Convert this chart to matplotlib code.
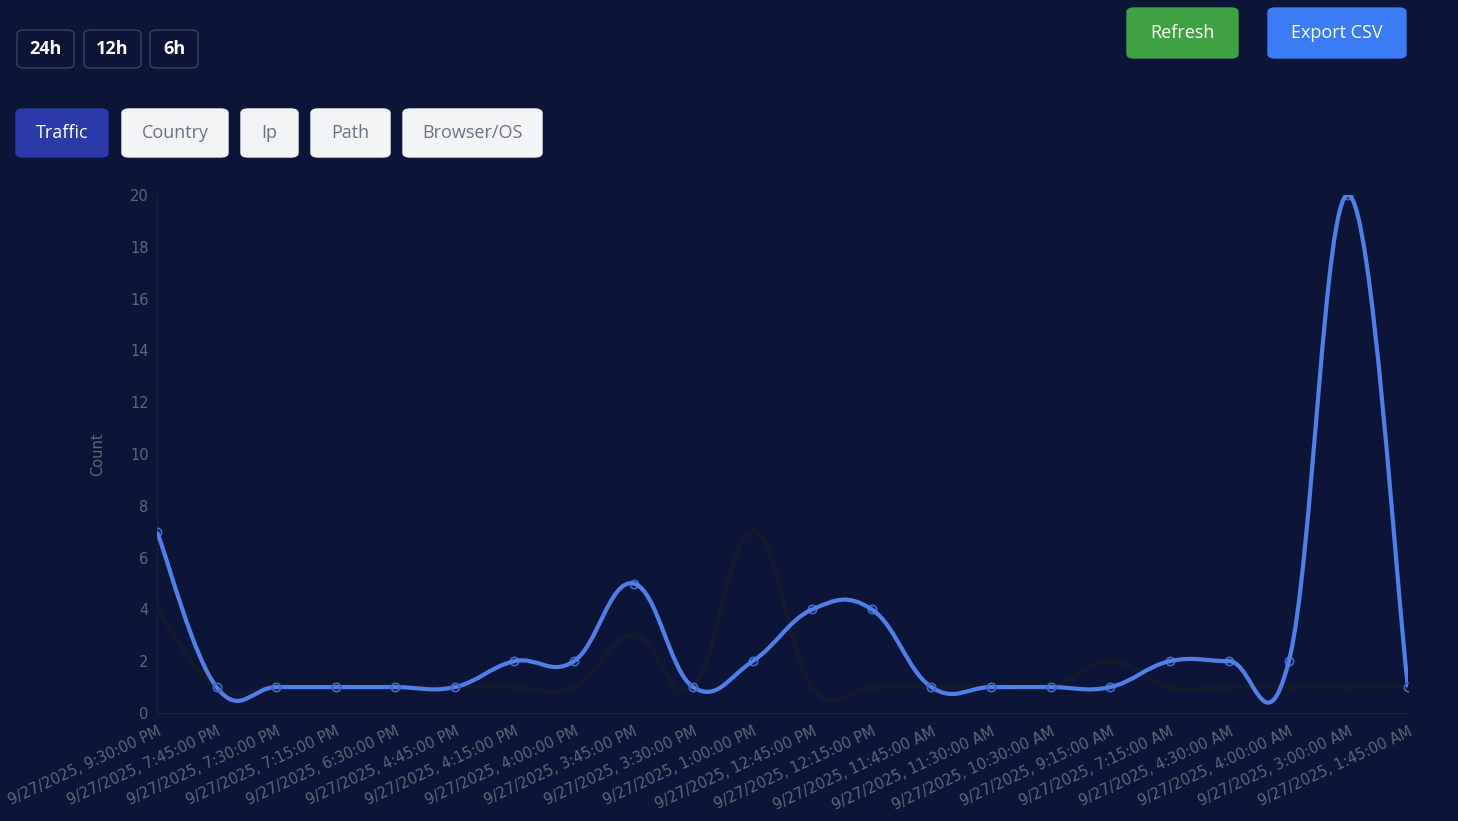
import numpy as np
import matplotlib
matplotlib.use("Agg")
import matplotlib.pyplot as plt
from matplotlib.path import Path
from matplotlib.patches import PathPatch, FancyBboxPatch

labels = ["9/27/2025, 9:30:00 PM", "9/27/2025, 7:45:00 PM", "9/27/2025, 7:30:00 PM",
          "9/27/2025, 7:15:00 PM", "9/27/2025, 6:30:00 PM", "9/27/2025, 4:45:00 PM",
          "9/27/2025, 4:15:00 PM", "9/27/2025, 4:00:00 PM", "9/27/2025, 3:45:00 PM",
          "9/27/2025, 3:30:00 PM", "9/27/2025, 1:00:00 PM", "9/27/2025, 12:45:00 PM",
          "9/27/2025, 12:15:00 PM", "9/27/2025, 11:45:00 AM", "9/27/2025, 11:30:00 AM",
          "9/27/2025, 10:30:00 AM", "9/27/2025, 9:15:00 AM", "9/27/2025, 7:15:00 AM",
          "9/27/2025, 4:30:00 AM", "9/27/2025, 4:00:00 AM", "9/27/2025, 3:00:00 AM",
          "9/27/2025, 1:45:00 AM"]
traffic = [7, 1, 1, 1, 1, 1, 2, 2, 5, 1, 2, 4, 4, 1, 1, 1, 1, 2, 2, 2, 20, 1]
unique = [4, 1, 1, 1, 1, 1, 1, 1, 3, 1, 7, 1, 1, 1, 1, 1, 2, 1, 1, 1, 1, 1]

BG = "#0c1538"
W, H = 1458, 821
fig = plt.figure(figsize=(W / 100, H / 100), dpi=100, facecolor=BG)
ax = fig.add_axes([157 / W, (H - 713) / H, 1251 / W, 518 / H])
ax.set_facecolor(BG)

def smooth_path(xs, ys, t=0.4):
    verts = [(xs[0], ys[0])]
    codes = [Path.MOVETO]
    n = len(xs)
    for i in range(n - 1):
        x0, y0 = (xs[i - 1], ys[i - 1]) if i > 0 else (xs[i], ys[i])
        x1, y1 = xs[i], ys[i]
        x2, y2 = xs[i + 1], ys[i + 1]
        x3, y3 = (xs[i + 2], ys[i + 2]) if i + 2 < n else (x2, y2)
        c1 = (x1 + (x2 - x0) * t / 2, y1 + (y2 - y0) * t / 2)
        c2 = (x2 - (x3 - x1) * t / 2, y2 - (y3 - y1) * t / 2)
        verts += [c1, c2, (x2, y2)]
        codes += [Path.CURVE4] * 3
    return Path(verts, codes)

x = np.arange(len(labels))
for vals, col, lw in [(unique, "#141a2c", 3), (traffic, "#4f7fe8", 3)]:
    ax.add_patch(PathPatch(smooth_path(x, vals), facecolor="none", edgecolor=col, lw=lw, zorder=3))
    ax.plot(x, vals, "o", ms=6, mfc="none", mec=col, mew=1.2, zorder=4, alpha=0.8)

ax.set_xlim(0, len(labels) - 1)
ax.set_ylim(0, 20)
ax.set_yticks(range(0, 21, 2))
ax.set_xticks(x)
ax.set_xticklabels(labels, rotation=25, ha="right", rotation_mode="anchor")
ax.tick_params(colors="#5f6675", labelsize=10.5, length=0, pad=6)
ax.tick_params(axis="x", pad=8)
for s in ["top", "right"]:
    ax.spines[s].set_visible(False)
for s in ["left", "bottom"]:
    ax.spines[s].set_color("#1a2138")
ax.set_ylabel("Count", color="#5f6675", fontsize=10.5, labelpad=18)
for t in ax.get_xticklabels() + ax.get_yticklabels():
    t.set_clip_on(False)

def button(x0, y0, x1, y1, text, fc, tc, ec=None, bold=False, fs=13):
    p = FancyBboxPatch((x0 / W, 1 - y1 / H), (x1 - x0) / W, (y1 - y0) / H,
                       boxstyle="round,pad=0,rounding_size=0.005", transform=fig.transFigure,
                       facecolor=fc, edgecolor=ec if ec else fc, lw=1)
    fig.add_artist(p)
    fig.text((x0 + x1) / 2 / W, 1 - (y0 + y1) / 2 / H, text, color=tc, fontsize=fs,
             ha="center", va="center", fontweight="bold" if bold else "normal",
             family="Open Sans")

button(17, 30, 74, 68, "24h", BG, "white", "#3a4257", True)
button(84, 30, 141, 68, "12h", BG, "white", "#3a4257", True)
button(150, 30, 198, 68, "6h", BG, "white", "#3a4257", True)
button(1127, 8, 1238, 58, "Refresh", "#3fa142", "white")
button(1268, 8, 1406, 58, "Export CSV", "#3b7cf5", "white")
button(16, 109, 108, 157, "Traffic", "#2b3aa8", "white")
button(122, 109, 228, 157, "Country", "#f3f4f6", "#6b7280")
button(241, 109, 298, 157, "Ip", "#f3f4f6", "#6b7280")
button(311, 109, 390, 157, "Path", "#f3f4f6", "#6b7280")
button(403, 109, 542, 157, "Browser/OS", "#f3f4f6", "#6b7280")

fig.savefig("out.png", dpi=100, facecolor=BG)
